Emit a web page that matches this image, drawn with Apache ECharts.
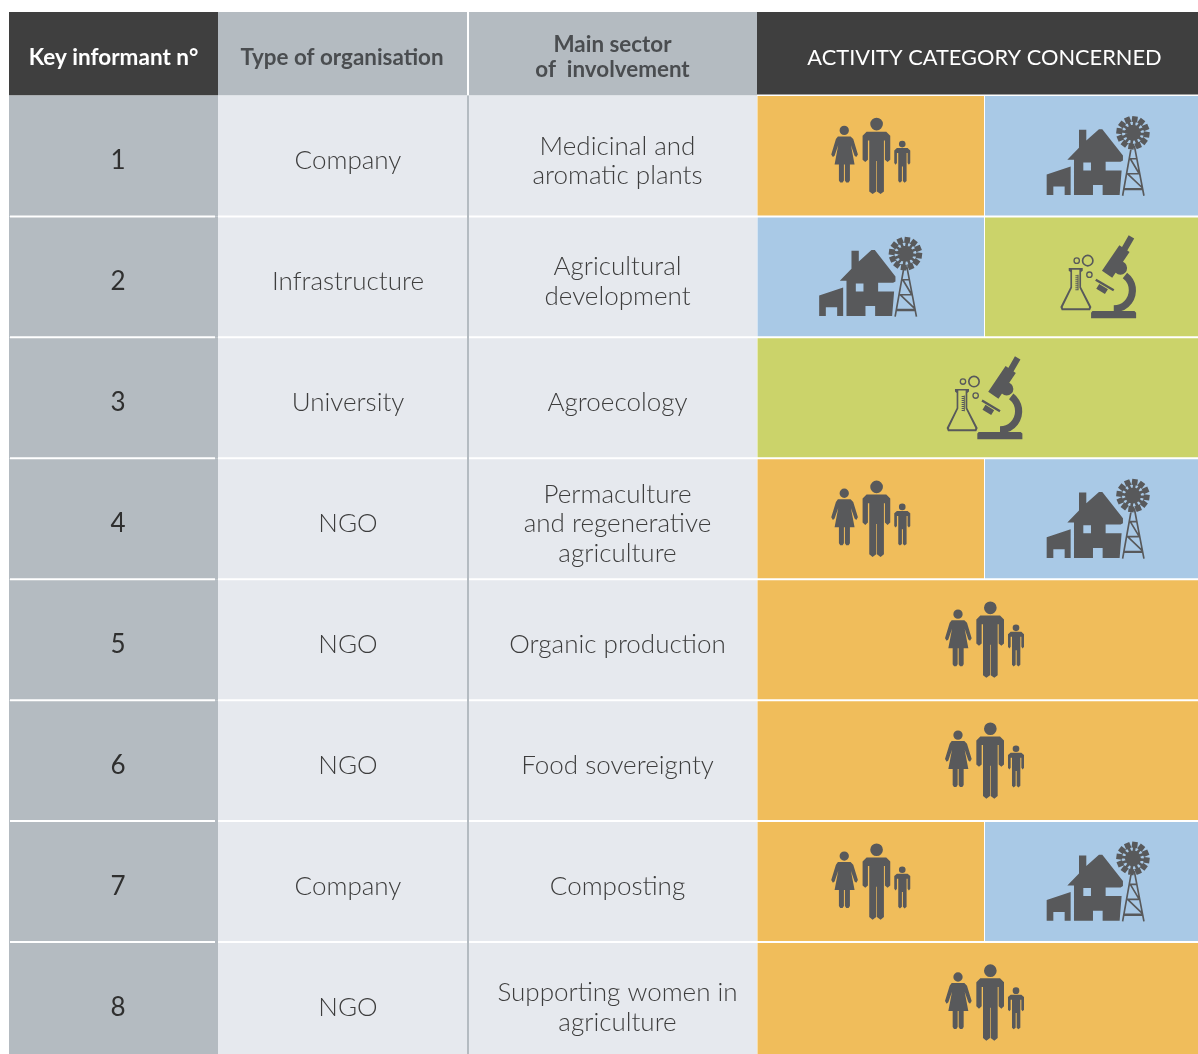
<!DOCTYPE html>
<html>
<head>
<meta charset="utf-8">
<title>Key informants</title>
<script src="https://cdn.jsdelivr.net/npm/echarts@6/dist/echarts.min.js"></script>
<style>
  html, body { margin: 0; padding: 0; background: #fff; }
  #chart { width: 1198px; height: 1054px; }
</style>
</head>
<body>
<div id="chart"></div>
<script>
// table content
const headers = ["Key informant n°", "Type of organisation", "Main sector\nof  involvement", "ACTIVITY CATEGORY CONCERNED"];
const informants = ["1", "2", "3", "4", "5", "6", "7", "8"];
const organisations = ["Company", "Infrastructure", "University", "NGO", "NGO", "NGO", "Company", "NGO"];
const sectors = [
  "Medicinal and\naromatic plants",
  "Agricultural\ndevelopment",
  "Agroecology",
  "Permaculture\nand regenerative\nagriculture",
  "Organic production",
  "Food sovereignty",
  "Composting",
  "Supporting women in\nagriculture",
];
const activities = [
  ["people", "farm"],
  ["farm", "lab"],
  ["lab"],
  ["people", "farm"],
  ["people"],
  ["people"],
  ["people", "farm"],
  ["people"],
];

// column edges on the x axis, the last activity cell runs off the page
const colEdges = [9, 218, 468, 757, 984.5, 1212];
const headerTop = -0.69; // in rows, row 0 starts at 0

const colors = {
  dark: "#3f3f3f",
  grey: "#b4bbc1",
  light: "#e6e9ee",
  people: "#f0bd5b",
  farm: "#a9c9e6",
  lab: "#cbd36a",
  icon: "#58595b",
};

// icon outlines, all clockwise so overlaps stay filled, holes go the other way
function bar(x1, y1, x2, y2, w) {
  const len = Math.hypot(x2 - x1, y2 - y1);
  const nx = ((y2 - y1) / len) * (w / 2);
  const ny = (-(x2 - x1) / len) * (w / 2);
  return `M${x1 + nx},${y1 + ny}L${x2 + nx},${y2 + ny}L${x2 - nx},${y2 - ny}L${x1 - nx},${y1 - ny}Z`;
}
function disc(cx, cy, r) {
  return `M${cx - r},${cy}A${r},${r} 0 1 1 ${cx + r},${cy}A${r},${r} 0 1 1 ${cx - r},${cy}Z`;
}
function ring(cx, cy, r, w) {
  const q = r - w;
  return disc(cx, cy, r) + `M${cx - q},${cy}A${q},${q} 0 1 0 ${cx + q},${cy}A${q},${q} 0 1 0 ${cx - q},${cy}Z`;
}
function poly(points) {
  return "M" + points.map((p) => p.join(",")).join("L") + "Z";
}

function peoplePath() {
  let d = "";
  // woman
  d += disc(283, 120, 14);
  d += poly([[264, 138], [302, 138], [310, 146], [324, 192], [319, 200], [314, 196], [303, 164], [314, 222], [300, 222], [300, 270], [296, 276], [289, 276], [285, 270], [285, 222], [282, 222], [282, 270], [278, 276], [271, 276], [267, 270], [267, 222], [254, 222], [265, 164], [254, 196], [249, 200], [244, 192], [258, 146]]);
  // man
  d += disc(380, 101, 19);
  d += poly([[350, 124], [409, 124], [421, 136], [421, 208], [413, 215], [405, 208], [405, 150], [402, 150], [402, 303], [392, 311], [381, 303], [381, 212], [379, 212], [379, 303], [368, 311], [358, 303], [358, 150], [354, 150], [354, 208], [346, 215], [338, 208], [338, 136]]);
  // child
  d += disc(457, 161, 10);
  d += poly([[441, 173], [473, 173], [481, 180], [481, 218], [477, 223], [473, 218], [473, 188], [470, 188], [470, 272], [464, 277], [459, 272], [459, 228], [456, 228], [456, 272], [450, 277], [445, 272], [445, 188], [441, 188], [441, 218], [437, 223], [433, 218], [433, 180]]);
  return d;
}

function farmPath() {
  let d = "";
  // barn
  d += poly([[888, 252], [960, 228], [960, 314], [942, 314], [942, 288], [908, 288], [908, 314], [888, 314]]);
  // house with its window
  d += poly([[985, 118], [1007, 118], [1007, 150], [1045, 116], [1055, 116], [1117, 195], [1117, 210], [1110, 214], [1065, 214], [1065, 240], [1113, 240], [1107, 314], [1056, 314], [1056, 284], [1027, 284], [1027, 314], [970, 314], [970, 208], [950, 208], [985, 172]]);
  d += poly([[998, 216], [998, 240], [1021, 240], [1021, 216]]);
  // tower
  d += bar(1143, 165, 1116, 316, 5);
  d += bar(1151, 165, 1180, 316, 5);
  d += bar(1120, 296, 1177, 296, 7);
  d += bar(1129, 250, 1168, 250, 5);
  d += bar(1137, 205, 1158, 205, 5);
  d += bar(1131, 250, 1175, 292, 5);
  d += bar(1139, 205, 1166, 250, 5);
  // wheel
  d += disc(1147, 127, 24);
  for (let i = 0; i < 12; i++) {
    const a = (i * Math.PI) / 6 + 0.13;
    const c = Math.cos(a);
    const s = Math.sin(a);
    d += bar(1147 + 15 * c, 127 + 15 * s, 1147 + 36 * c, 127 + 36 * s, 8);
    d += bar(1147 + 32 * c, 127 + 32 * s, 1147 + 50 * c, 127 + 50 * s, 17);
  }
  return d;
}

function labPath() {
  let d = "";
  // microscope tube and eyepiece
  d += bar(1143, 440, 1120, 480, 19);
  d += bar(1122, 475, 1070, 552, 37);
  d += disc(1110, 533, 20);
  // stage and lens
  d += bar(1036, 568, 1090, 600, 7);
  d += bar(1042, 588, 1068, 604, 17);
  // arm and base
  d += "M1130,547A66,66 0 0 1 1090,666L1090,645A45,45 0 0 0 1117,564Z";
  d += poly([[1026, 662], [1152, 662], [1157, 667], [1157, 684], [1022, 684], [1022, 667]]);
  // flask
  d += poly([[955, 533], [997, 533], [997, 541], [992, 545], [992, 590], [1023, 650], [1019, 660], [934, 660], [930, 650], [960, 590], [960, 545], [955, 541]]);
  d += poly([[965, 538], [965, 592], [937, 650], [938, 654], [1015, 654], [1016, 650], [987, 592], [987, 538]]);
  d += bar(983, 553, 983, 600, 3);
  for (let y = 556; y <= 600; y += 6) {
    d += bar(975, y, 983, y, 3);
  }
  // bubbles
  d += ring(1012, 511, 18, 5);
  d += ring(979, 511, 10, 4);
  d += ring(1017, 553, 10, 4);
  return d;
}

const icons = {
  people: { path: peoplePath(), width: 79, height: 77 },
  farm: { path: farmPath(), width: 104, height: 80 },
  lab: { path: labPath(), width: 76, height: 83 },
};

// one entry per coloured block: column span and row span
const cells = [];
// header
cells.push([0, 1, headerTop, 0, colors.dark]);
cells.push([1, 2, headerTop, 0, colors.grey]);
cells.push([2, 3, headerTop, 0, colors.grey]);
cells.push([3, 5, headerTop, 0, colors.dark]);
informants.forEach((n, i) => {
  cells.push([0, 1, i, i + 1, colors.grey]);
  cells.push([1, 3, i, i + 1, colors.light]);
});

// activity blocks, one icon each
const activityCells = [];
activities.forEach((list, i) => {
  list.forEach((kind, k) => {
    const from = list.length === 1 ? 3 : 3 + k;
    const to = list.length === 1 ? 5 : 4 + k;
    activityCells.push([from, to, i, kind]);
  });
});

// text labels: column span, row, string, style name
const labels = [];
const textOffset = 5; // the text sits a little under the middle of the row
informants.forEach((n, i) => {
  labels.push([0, 1, i, n, "number"]);
  labels.push([1, 2, i, organisations[i], "body"]);
  labels.push([2, 3, i, sectors[i], "body"]);
});

const fonts = {
  number: { font: "400 26px Lato", fill: "#2f2f2f", lineHeight: 30 },
  body: { font: "300 26px Lato", fill: "#3d3d3d", lineHeight: 29.5 },
};

const chart = echarts.init(document.getElementById("chart"), null, { renderer: "canvas" });

function renderCell(params, api) {
  const c = cells[params.dataIndex];
  const p0 = api.coord([colEdges[c[0]], c[2]]);
  const p1 = api.coord([colEdges[c[1]], c[3]]);
  return {
    type: "rect",
    shape: echarts.graphic.clipRectByRect(
      { x: p0[0], y: p0[1], width: p1[0] - p0[0], height: p1[1] - p0[1] },
      params.coordSys
    ),
    style: { fill: c[4] },
  };
}

function renderActivity(params, api) {
  const c = activityCells[params.dataIndex];
  const p0 = api.coord([colEdges[c[0]], c[2]]);
  const p1 = api.coord([colEdges[c[1]], c[2] + 1]);
  const icon = icons[c[3]];
  const cx = (p0[0] + p1[0]) / 2;
  const cy = (p0[1] + p1[1]) / 2;
  return {
    type: "group",
    children: [
      {
        type: "rect",
        shape: echarts.graphic.clipRectByRect(
          { x: p0[0] + 0.5, y: p0[1], width: p1[0] - p0[0] - 1, height: p1[1] - p0[1] },
          params.coordSys
        ),
        style: { fill: colors[c[3]] },
      },
      {
        type: "path",
        shape: {
          pathData: icon.path,
          x: cx - icon.width / 2,
          y: cy - icon.height / 2,
          width: icon.width,
          height: icon.height,
        },
        style: { fill: colors.icon },
      },
    ],
  };
}

// white rules between rows and the thin rule between columns 2 and 3
function renderRules(params, api) {
  const children = [];
  const addRect = (x0, y0, x1, y1, fill) => {
    const a = api.coord([x0, y0]);
    const b = api.coord([x1, y1]);
    children.push({
      type: "rect",
      shape: { x: a[0], y: a[1], width: b[0] - a[0], height: b[1] - a[1] },
      style: { fill: fill },
    });
  };
  const px = 1 / 121;
  informants.forEach((n, i) => {
    if (i > 0) {
      addRect(10, i - px, 215, i + px, "#ffffff");
      addRect(218, i - px, 1198, i + px, "#ffffff");
    }
  });
  addRect(colEdges[3], -px, 1198, px / 2, "#ffffff");
  addRect(colEdges[2] - 1, headerTop, colEdges[2] + 1, 0, "#ffffff");
  addRect(colEdges[2] - 1, 0, colEdges[2] + 1, 7.926, colors.grey);
  return { type: "group", children: children };
}

function renderLabel(params, api) {
  const l = labels[params.dataIndex];
  const x0 = api.coord([colEdges[l[0]], l[2]]);
  const x1 = api.coord([colEdges[l[1]], l[2] + 1]);
  const f = fonts[l[4]];
  // the number column and the two text columns are centred a bit right of their cell
  const shift = l[4] === "number" ? 4.5 : 5;
  return {
    type: "text",
    style: {
      text: l[3],
      x: (x0[0] + x1[0]) / 2 + shift,
      y: (x0[1] + x1[1]) / 2 + textOffset,
      align: "center",
      verticalAlign: "middle",
      font: f.font,
      fill: f.fill,
      lineHeight: f.lineHeight,
    },
  };
}

function renderHeader(params, api) {
  const i = params.dataIndex;
  const spans = [[0, 1], [1, 2], [2, 3], [3, 5]];
  const a = api.coord([colEdges[spans[i][0]], headerTop]);
  const b = api.coord([colEdges[spans[i][1]], 0]);
  const styles = [
    { font: "700 22.5px Lato", fill: "#ffffff", dx: 0 },
    { font: "700 22.4px Lato", fill: "#4a4d50", dx: -1 },
    { font: "700 22.4px Lato", fill: "#4a4d50", dx: 0 },
    { font: "400 21.8px Lato", fill: "#ffffff", dx: 0 },
  ];
  return {
    type: "text",
    style: {
      text: headers[i],
      x: (a[0] + b[0]) / 2 + styles[i].dx,
      y: (a[1] + b[1]) / 2 + 4,
      align: "center",
      verticalAlign: "middle",
      font: styles[i].font,
      fill: styles[i].fill,
      lineHeight: 25,
    },
  };
}

const option = {
  animation: false,
  backgroundColor: "#ffffff",
  grid: { left: 0, right: 0, top: 12, bottom: 0 },
  xAxis: { type: "value", min: 0, max: 1198, show: false },
  yAxis: { type: "value", min: headerTop, max: 7.926, inverse: true, show: false },
  series: [
    { type: "custom", renderItem: renderCell, data: cells.map((c, i) => [colEdges[c[0]], c[2], i]), clip: false, silent: true },
    { type: "custom", renderItem: renderActivity, data: activityCells.map((c, i) => [colEdges[c[0]], c[2], i]), clip: false, silent: true },
    { type: "custom", renderItem: renderRules, data: [[0, 0]], clip: false, silent: true },
    { type: "custom", renderItem: renderHeader, data: headers.map((h, i) => [i, 0]), clip: false, silent: true },
    { type: "custom", renderItem: renderLabel, data: labels.map((l, i) => [colEdges[l[0]], l[2], i]), clip: false, silent: true },
  ],
};

chart.setOption(option);
</script>
</body>
</html>
